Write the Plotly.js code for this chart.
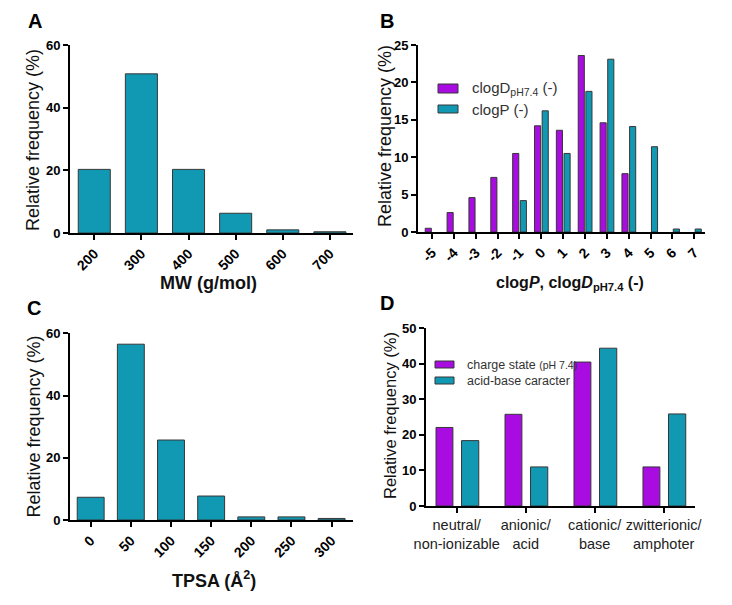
<!DOCTYPE html>
<html>
<head>
<meta charset="utf-8">
<script src="https://cdn.plot.ly/plotly-3.0.1.min.js"></script>
<style>html,body{margin:0;padding:0;background:#fff;}#chart{width:732px;height:605px;}</style>
</head>
<body>
<div id="chart"></div>
<script>
// ---- data ----
const A_categories = ['200', '300', '400', '500', '600', '700'];
const A_values = [20.3, 50.8, 20.3, 6.3, 1.0, 0.4];

const B_categories = ['-5', '-4', '-3', '-2', '-1', '0', '1', '2', '3', '4', '5', '6', '7'];
const B_clogD = [0.5, 2.6, 4.6, 7.3, 10.5, 14.2, 13.6, 23.6, 14.6, 7.8, null, null, null];
const B_clogP = [null, null, null, null, 4.2, 16.2, 10.5, 18.8, 23.1, 14.1, 11.4, 0.4, 0.4];

const C_categories = ['0', '50', '100', '150', '200', '250', '300'];
const C_values = [7.3, 56.5, 25.7, 7.7, 1.0, 1.0, 0.5];

const D_categories = ['neutral/<br>non-ionizable', 'anionic/<br>acid', 'cationic/<br>base', 'zwitterionic/<br>amphoter'];
const D_charge = [22.1, 25.8, 40.5, 11.0];
const D_acidbase = [18.4, 11.0, 44.4, 25.9];

// ---- styling ----
const W = 732, H = 605;
const TEAL = 'rgb(17,153,180)';
const PURPLE = 'rgb(168,12,224)';
const EDGE = 'rgb(55,55,55)';
const FONT = 'Arial, "Liberation Sans", Helvetica, sans-serif';
const px = x => x / W;
const py = y => 1 - y / H;

function yax(domTop, domBot, range, dtick) {
  return {
    domain: [py(domBot), py(domTop)], range: range, dtick: dtick, tick0: 0,
    showline: true, linecolor: '#000', linewidth: 2,
    ticks: 'outside', ticklen: 5, tickwidth: 2, tickcolor: '#000',
    showgrid: false, zeroline: false, fixedrange: true,
    tickfont: {family: FONT, size: 13, color: '#000', weight: 'bold'},
    automargin: false
  };
}
function xax(l, r, range, tickangle, tickfont) {
  return {
    domain: [px(l), px(r)], range: range, type: 'category',
    showline: true, linecolor: '#000', linewidth: 2,
    ticks: 'outside', ticklen: 5, tickwidth: 2, tickcolor: '#000',
    showgrid: false, zeroline: false, fixedrange: true, tickangle: tickangle,
    tickfont: tickfont || {family: FONT, size: 14, color: '#000', weight: 'bold'},
    automargin: false
  };
}

const barLine = {color: EDGE, width: 1};

const data = [
  {type: 'bar', x: A_categories, y: A_values, xaxis: 'x', yaxis: 'y', width: 0.68,
   marker: {color: TEAL, line: barLine}, showlegend: false},
  {type: 'bar', x: B_categories, y: B_clogD, xaxis: 'x2', yaxis: 'y2', width: 0.28, offset: -0.31,
   marker: {color: PURPLE, line: barLine}, name: 'clogD pH7.4 (-)', showlegend: false},
  {type: 'bar', x: B_categories, y: B_clogP, xaxis: 'x2', yaxis: 'y2', width: 0.28, offset: 0.04,
   marker: {color: TEAL, line: barLine}, name: 'clogP (-)', showlegend: false},
  {type: 'bar', x: C_categories, y: C_values, xaxis: 'x3', yaxis: 'y3', width: 0.67,
   marker: {color: TEAL, line: barLine}, showlegend: false},
  {type: 'bar', x: D_categories, y: D_charge, xaxis: 'x4', yaxis: 'y4', width: 0.245, offset: -0.30,
   marker: {color: PURPLE, line: barLine}, name: 'charge state (pH 7.4)', showlegend: false},
  {type: 'bar', x: D_categories, y: D_acidbase, xaxis: 'x4', yaxis: 'y4', width: 0.25, offset: 0.07,
   marker: {color: TEAL, line: barLine}, name: 'acid-base caracter', showlegend: false}
];

function swatch(x0, y0, x1, y1, color) {
  return {type: 'rect', xref: 'paper', yref: 'paper', x0: px(x0), x1: px(x1), y0: py(y1), y1: py(y0),
          fillcolor: color, line: {color: EDGE, width: 1}};
}
function label(x, y, text, size, opts) {
  return Object.assign({xref: 'paper', yref: 'paper', x: px(x), y: py(y), text: text, showarrow: false,
          xanchor: 'left', yanchor: 'middle', font: {family: FONT, size: size, color: '#333'}}, opts || {});
}
function letter(x, y, t) {
  return {xref: 'paper', yref: 'paper', x: px(x), y: py(y), text: '<b>' + t + '</b>', showarrow: false,
          xanchor: 'center', yanchor: 'middle', font: {family: FONT, size: 20, color: '#000'}};
}
function ytitle(x, y, size) {
  return {xref: 'paper', yref: 'paper', x: px(x), y: py(y), text: 'Relative frequency (%)', showarrow: false,
          textangle: -90, xanchor: 'center', yanchor: 'middle', font: {family: FONT, size: size, color: '#111'}};
}
function xtitle(x, y, text, size) {
  return {xref: 'paper', yref: 'paper', x: px(x), y: py(y), text: '<b>' + text + '</b>', showarrow: false,
          xanchor: 'center', yanchor: 'middle', font: {family: FONT, size: size, color: '#111'}};
}

const layout = {
  width: W, height: H, margin: {l: 0, r: 0, t: 0, b: 0},
  paper_bgcolor: '#fff', plot_bgcolor: 'rgba(0,0,0,0)',
  barmode: 'overlay', showlegend: false,
  font: {family: FONT},
  xaxis: Object.assign(xax(70, 353, [-0.515, 5.49], -45), {anchor: 'y'}),
  yaxis: Object.assign(yax(45, 233, [0, 60], 20), {anchor: 'x'}),
  xaxis2: Object.assign(xax(418, 705, [-0.64, 12.49], -45), {anchor: 'y2'}),
  yaxis2: Object.assign(yax(45, 232, [0, 25], 5), {anchor: 'x2'}),
  xaxis3: Object.assign(xax(70, 353.3, [-0.515, 6.54], -45), {anchor: 'y3'}),
  yaxis3: Object.assign(yax(333.3, 520, [0, 60], 20), {anchor: 'x3'}),
  xaxis4: Object.assign(xax(426, 695, [-0.445, 3.454], 0, {family: FONT, size: 14.5, color: '#222'}), {anchor: 'y4'}),
  yaxis4: Object.assign(yax(328.3, 506, [0, 50], 10), {anchor: 'x4'}),
  shapes: [
    swatch(438, 84, 458, 93, PURPLE),
    swatch(438, 105, 458, 113, TEAL),
    swatch(435, 361, 454, 368, PURPLE),
    swatch(435, 377, 454, 384, TEAL)
  ],
  annotations: [
    letter(35, 21, 'A'), letter(387, 21, 'B'), letter(34, 308, 'C'), letter(387, 303, 'D'),
    ytitle(33, 140, 18), ytitle(385, 136, 18), ytitle(33, 426.5, 18), ytitle(390, 416, 16.5),
    xtitle(208, 283, 'MW (g/mol)', 18),
    xtitle(569.5, 283, 'clog<i>P</i>, clog<i>D</i><sub>pH7.4</sub> (-)', 16),
    xtitle(214, 579, 'TPSA (Å<sup>2</sup>)', 18),
    label(470, 88, 'clogD<sub>pH7.4</sub> (-)', 15),
    label(470, 109, 'clogP (-)', 15),
    label(465, 365, 'charge state <span style="font-size:10.5px">(pH 7.4)</span>', 12.5),
    label(465, 381, 'acid-base caracter', 12.5)
  ]
};

Plotly.newPlot('chart', data, layout, {staticPlot: true, displayModeBar: false});
</script>
</body>
</html>
